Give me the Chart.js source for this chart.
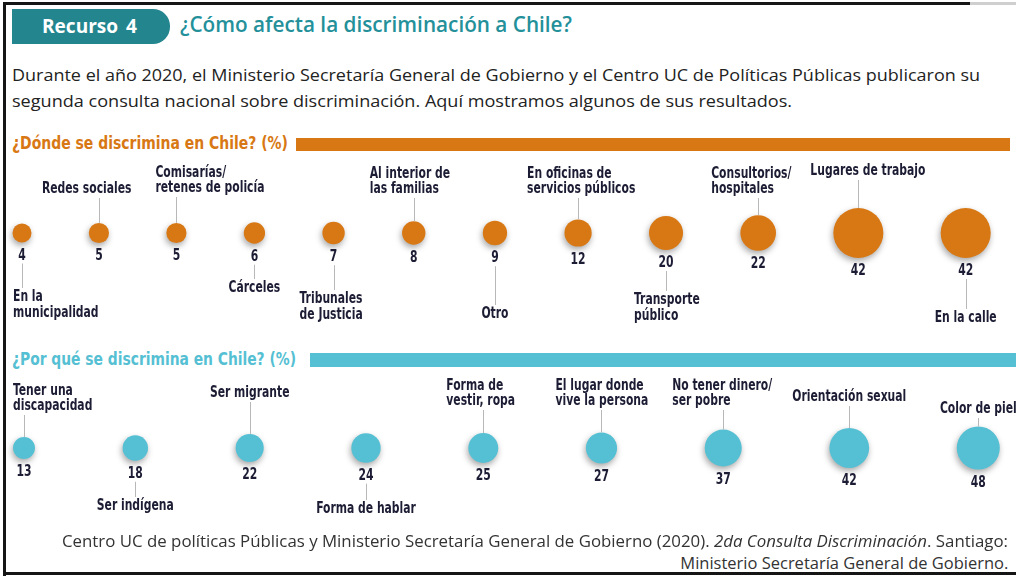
<!DOCTYPE html>
<html>
<head>
<meta charset="utf-8">
<script src="https://cdn.jsdelivr.net/npm/chart.js@4"></script>
<style>
  body { margin: 0; background: #fff; }
  #page { position: relative; width: 1016px; height: 578px; overflow: hidden; background: #fff; }
  .abs { position: absolute; white-space: nowrap; line-height: 1; }
  .line { position: absolute; background: #151515; }
  .sans { font-family: "Open Sans", sans-serif; }
  .narrow { font-family: "DejaVu Sans Condensed", sans-serif; font-weight: bold; }
  canvas { position: absolute; left: 0; }
</style>
</head>
<body>
<div id="page">
  <!-- frame -->
  <div class="line" style="left:3px;top:2px;width:3px;height:574px"></div>
  <div class="line" style="left:3px;top:2px;width:967px;height:3px"></div>
  <div class="line" style="left:970px;top:2px;width:46px;height:3px;background:#cfcfcf"></div>
  <div class="line" style="left:3px;top:572px;width:1013px;height:3px"></div>

  <!-- header -->
  <div class="abs" style="left:12px;top:9px;width:158px;height:35px;background:#23868f;border-radius:0 17px 17px 0"></div>
  <div class="abs sans" data-fit="95" style="left:42px;top:17px;font-size:19px;font-weight:700;color:#fff;word-spacing:3px">Recurso 4</div>
  <div class="abs sans" data-fit="392" style="left:180px;top:14px;font-size:21px;font-weight:600;color:#23909a">¿Cómo afecta la discriminación a Chile?</div>

  <div class="abs sans" data-fit="968" style="left:12px;top:66px;font-size:17px;color:#222">Durante el año 2020, el Ministerio Secretaría General de Gobierno y el Centro UC de Políticas Públicas publicaron su</div>
  <div class="abs sans" data-fit="780" style="left:12px;top:92px;font-size:17px;color:#222">segunda consulta nacional sobre discriminación. Aquí mostramos algunos de sus resultados.</div>

  <!-- section headers -->
  <div class="abs narrow" data-fit="276" style="left:12px;top:134px;font-size:18px;color:#d87814">¿Dónde se discrimina en Chile? (%)</div>
  <div class="abs" style="left:296px;top:138px;width:714px;height:13px;background:#d87814"></div>
  <div class="abs narrow" data-fit="284" style="left:12px;top:350px;font-size:18px;color:#55bfd3">¿Por qué se discrimina en Chile? (%)</div>
  <div class="abs" style="left:310px;top:353px;width:706px;height:14px;background:#55bfd3"></div>

  <canvas id="whereChart" width="1016" height="200" style="top:133px"></canvas>
  <canvas id="whyChart" width="1016" height="200" style="top:348px"></canvas>

  <!-- source -->
  <div class="abs sans" data-fit="946" style="left:62px;top:533px;font-size:16px;color:#333">Centro UC de políticas Públicas y Ministerio Secretaría General de Gobierno (2020). <i>2da Consulta Discriminación</i>. Santiago:</div>
  <div class="abs sans" data-fit="328" data-origin="right" style="right:8px;top:555px;font-size:16px;color:#333">Ministerio Secretaría General de Gobierno.</div>
</div>

<script>
// ¿Dónde se discrimina en Chile? (%)
const whereLabels = ['En la\nmunicipalidad', 'Redes sociales', 'Comisarías/\nretenes de policía', 'Cárceles',
  'Tribunales\nde Justicia', 'Al interior de\nlas familias', 'Otro', 'En oficinas de\nservicios públicos',
  'Transporte\npúblico', 'Consultorios/\nhospitales', 'Lugares de trabajo', 'En la calle'];
const whereValues = [4, 5, 5, 6, 7, 8, 9, 12, 20, 22, 42, 42];

// ¿Por qué se discrimina en Chile? (%)
const whyLabels = ['Tener una\ndiscapacidad', 'Ser indígena', 'Ser migrante', 'Forma de hablar',
  'Forma de\nvestir, ropa', 'El lugar donde\nvive la persona', 'No tener dinero/\nser pobre',
  'Orientación sexual', 'Color de piel'];
const whyValues = [13, 18, 22, 24, 25, 27, 37, 42, 48];

// label placement: side, baseline offset from bubble centre, left offset (null = centred)
const wherePlace = [
  ['down', 68, -9], ['up', -40, -57], ['up', -41, -21], ['down', 59, null],
  ['down', 70, -34], ['up', -40, -44], ['down', 85, null], ['up', -40, -51],
  ['down', 71, -32], ['up', -40, -47], ['up', -58, -48], ['down', 89, null]
];
const whyPlace = [
  ['up', -38, -11], ['down', 62, null], ['up', -51, null], ['down', 65, null],
  ['up', -43, -37], ['up', -43, -46], ['up', -43, -51], ['up', -47, null], ['up', -35, null]
];

const TEXT = '#1c1c34';
const LABEL_FONT = 'bold 15px "DejaVu Sans Condensed", sans-serif';
const SQUEEZE = 0.8;   // the print uses a condensed face
const LH = 15.5;

// fit static text to its measured width in the print
document.querySelectorAll('[data-fit]').forEach(el => {
  const w = el.getBoundingClientRect().width;
  el.style.transformOrigin = el.dataset.origin === 'right' ? 'right center' : 'left center';
  el.style.transform = 'scaleX(' + (el.dataset.fit / w) + ')';
});

// bubbles sit side by side with an even gap between their edges
const pack = (values, radius, start, gap) => {
  let x = start;
  return values.map((v, i) => {
    if (i > 0) x += radius(values[i - 1]) + radius(v) + gap;
    return { x: x, y: 0, r: radius(v) };
  });
};

const narrowText = (ctx, t, x, y, centred) => {
  const w = ctx.measureText(t).width * SQUEEZE;
  ctx.save();
  ctx.translate(centred ? x - w / 2 : x, y);
  ctx.scale(SQUEEZE, 1);
  ctx.textAlign = 'left';
  ctx.fillText(t, 0, 0);
  ctx.restore();
};

const shadowPlugin = {
  id: 'shadow',
  beforeDatasetsDraw(chart) {
    const ctx = chart.ctx;
    ctx.save();
    ctx.shadowColor = 'rgba(0,0,0,0.35)';
    ctx.shadowBlur = 6;
    ctx.shadowOffsetX = -1;
    ctx.shadowOffsetY = 3;
  },
  afterDatasetsDraw(chart) {
    chart.ctx.restore();
  }
};

const labelPlugin = (labels, values, place) => ({
  id: 'bubbleLabels',
  afterDraw(chart) {
    const ctx = chart.ctx;
    ctx.save();
    ctx.font = LABEL_FONT;
    ctx.fillStyle = TEXT;
    ctx.strokeStyle = '#b8b8b8';
    ctx.lineWidth = 1;
    chart.getDatasetMeta(0).data.forEach((pt, i) => {
      const x = pt.x, y = pt.y, r = pt.options.radius;
      const [side, dy, dx] = place[i];
      const lines = labels[i].split('\n');
      const numBase = y + r + 17;
      narrowText(ctx, String(values[i]), x, numBase, true);

      const lx = dx === null ? x : x + dx;
      const first = side === 'up' ? y + dy - (lines.length - 1) * LH : y + dy;
      lines.forEach((t, k) => narrowText(ctx, t, lx, first + k * LH, dx === null));

      const cx = Math.round(x) + 0.5;
      ctx.beginPath();
      if (side === 'up') {
        ctx.moveTo(cx, y + dy + 5);
        ctx.lineTo(cx, y - r);
      } else {
        ctx.moveTo(cx, numBase + 4);
        ctx.lineTo(cx, y + dy - 13);
      }
      ctx.stroke();
    });
    ctx.restore();
  }
});

const makeRow = (id, labels, values, place, color, radius, start, gap) => {
  new Chart(document.getElementById(id), {
    type: 'bubble',
    data: {
      labels: labels,
      datasets: [{
        data: pack(values, radius, start, gap),
        backgroundColor: color,
        borderWidth: 0,
        hoverRadius: 0,
        clip: false
      }]
    },
    options: {
      responsive: false,
      animation: false,
      events: [],
      layout: { padding: 0, autoPadding: false },
      scales: {
        x: { display: false, min: 0, max: 1016 },
        y: { display: false, min: -1, max: 1 }
      },
      plugins: { legend: { display: false }, tooltip: { enabled: false } }
    },
    plugins: [shadowPlugin, labelPlugin(labels, values, place)]
  });
};

makeRow('whereChart', whereLabels, whereValues, wherePlace, '#d87814',
  v => (12.6 + 2.27 * Math.pow(v, 0.75)) / 2, 22, 57.3);
makeRow('whyChart', whyLabels, whyValues, whyPlace, '#55c0d4',
  v => (9.3 + 1.85 * Math.pow(v, 0.75)) / 2, 24, 87.6);
</script>
</body>
</html>
